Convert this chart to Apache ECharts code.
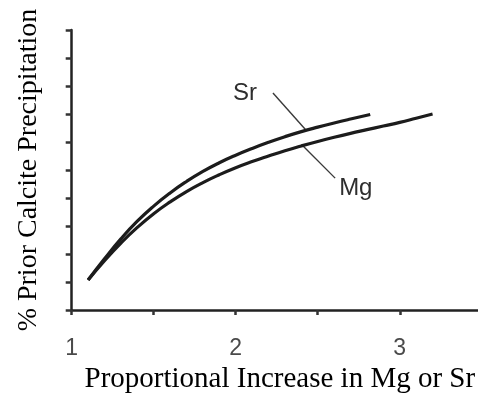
<!DOCTYPE html>
<html>
<head>
<meta charset="utf-8">
<script src="https://cdn.jsdelivr.net/npm/echarts@6/dist/echarts.min.js"></script>
<style>
  html, body { margin: 0; padding: 0; background: #fff; }
  #chart { width: 478px; height: 399px; }
</style>
</head>
<body>
<div id="chart"></div>
<script>
// Proportional increase in trace element ratio (x) versus % prior calcite precipitation (y)
var srX = [1.10, 1.20, 1.30, 1.40, 1.50, 1.60, 1.70, 1.80, 1.90, 2.00, 2.10, 2.20, 2.30, 2.40, 2.50, 2.60, 2.70, 2.82];
var srY = [10.7, 18.3, 25.4, 31.7, 37.1, 41.8, 45.9, 49.5, 52.6, 55.3, 57.7, 59.9, 61.9, 63.7, 65.3, 66.8, 68.2, 69.8];

var mgX = [1.10, 1.20, 1.30, 1.40, 1.50, 1.60, 1.70, 1.80, 1.90, 2.00, 2.10, 2.20, 2.30, 2.40, 2.50, 2.60, 2.70, 2.80, 2.90, 3.00, 3.10, 3.20];
var mgY = [10.7, 17.6, 23.9, 29.5, 34.4, 38.6, 42.3, 45.5, 48.3, 50.8, 53.0, 55.0, 56.9, 58.6, 60.2, 61.7, 63.1, 64.4, 65.7, 67.0, 68.5, 70.0];

// Leader lines for the curve labels: [label end, curve end]
var srLeaderX = [2.227, 2.429];
var srLeaderY = [77.5, 64.2];
var mgLeaderX = [2.409, 2.606];
var mgLeaderY = [58.7, 47.1];

var xTicks = [1, 2, 3];

function pairs(xs, ys) {
  return xs.map(function (x, i) { return [x, ys[i]]; });
}

var chart = echarts.init(document.getElementById('chart'), null, { renderer: 'canvas' });

var curveStyle = { color: '#1c1c1c', width: 3.2 };
var leaderStyle = { color: '#3a3a3a', width: 1.4 };

chart.setOption({
  animation: false,
  backgroundColor: '#ffffff',
  grid: { left: 71.7, right: 0, top: 30, bottom: 89, containLabel: false, outerBoundsMode: 'none' },
  xAxis: {
    type: 'value',
    min: 1,
    max: 3.477,
    interval: 0.5,
    name: 'Proportional Increase in Mg or Sr',
    nameLocation: 'middle',
    nameGap: 53,
    nameTextStyle: {
      fontFamily: 'Liberation Serif',
      fontSize: 29,
      color: '#000',
      padding: [0, 0, 0, 10]
    },
    axisLine: { lineStyle: { color: '#222', width: 2.5 } },
    axisTick: { show: true, inside: false, length: 5, lineStyle: { color: '#333', width: 2.5 } },
    axisLabel: {
      margin: 27,
      fontFamily: 'Liberation Sans',
      fontSize: 23,
      color: '#4a4a4a',
      showMaxLabel: false,
      formatter: function (v) {
        return xTicks.indexOf(v) >= 0 ? String(v) : '';
      }
    },
    splitLine: { show: false }
  },
  yAxis: {
    type: 'value',
    min: 0,
    max: 100,
    interval: 10,
    name: '% Prior Calcite Precipitation',
    nameLocation: 'middle',
    nameRotate: 90,
    nameGap: 29,
    nameTextStyle: {
      fontFamily: 'Liberation Serif',
      fontSize: 28,
      color: '#000'
    },
    axisLine: { show: true, lineStyle: { color: '#222', width: 2.5 } },
    axisTick: { show: true, inside: false, length: 6, lineStyle: { color: '#333', width: 2.5 } },
    axisLabel: { show: false },
    splitLine: { show: false }
  },
  series: [
    {
      name: 'Sr', type: 'line', data: pairs(srX, srY), smooth: true,
      symbol: 'none', lineStyle: curveStyle, z: 3
    },
    {
      name: 'Mg', type: 'line', data: pairs(mgX, mgY), smooth: true,
      symbol: 'none', lineStyle: curveStyle, z: 3
    },
    {
      name: 'Sr leader', type: 'line', data: pairs(srLeaderX, srLeaderY),
      symbol: 'none', lineStyle: leaderStyle, z: 2
    },
    {
      name: 'Mg leader', type: 'line', data: pairs(mgLeaderX, mgLeaderY),
      symbol: 'none', lineStyle: leaderStyle, z: 2
    }
  ]
});

// Place the curve names at the free ends of their leader lines
var srAnchor = chart.convertToPixel({ gridIndex: 0 }, [srLeaderX[0], srLeaderY[0]]);
var mgAnchor = chart.convertToPixel({ gridIndex: 0 }, [mgLeaderX[1], mgLeaderY[1]]);
var labelFont = { fontFamily: 'Liberation Sans', fontSize: 24, fill: '#2e2e2e' };

chart.setOption({
  graphic: [
    {
      type: 'text', x: srAnchor[0] - 16, y: srAnchor[1],
      style: Object.assign({ text: 'Sr', textAlign: 'right', textVerticalAlign: 'middle' }, labelFont)
    },
    {
      type: 'text', x: mgAnchor[0] + 4, y: mgAnchor[1] + 10,
      style: Object.assign({ text: 'Mg', textAlign: 'left', textVerticalAlign: 'middle' }, labelFont)
    }
  ]
});
</script>
</body>
</html>
